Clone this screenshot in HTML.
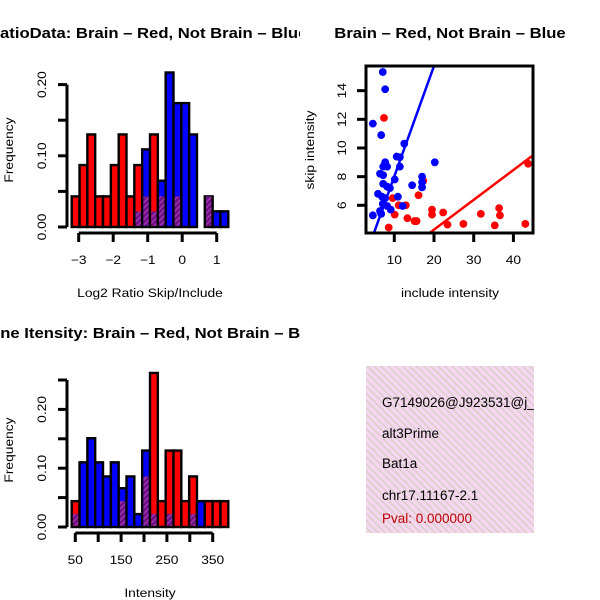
<!DOCTYPE html>
<html><head><meta charset="utf-8"><style>
body{margin:0;background:#fff}
svg{display:block;font-family:"Liberation Sans",sans-serif}
</style></head><body>
<svg id="c" width="600" height="600" viewBox="0 0 600 600">
<defs>
<pattern id="hatch" patternUnits="userSpaceOnUse" width="4" height="4" patternTransform="rotate(45)">
<rect width="4" height="4" fill="#6a1080"/><rect width="1.6" height="4" fill="#a030b0"/></pattern>
<pattern id="pink" patternUnits="userSpaceOnUse" width="5" height="5" patternTransform="rotate(-45)">
<rect width="5" height="5" fill="#f6d6f0"/><rect width="1.5" height="5" fill="#d8cfc8"/></pattern>
<clipPath id="left"><rect x="0" y="0" width="300" height="600"/></clipPath>
<clipPath id="sbox"><rect x="366" y="66" width="167" height="167"/></clipPath>
<clipPath id="tbox"><rect x="366" y="366" width="168" height="167"/></clipPath>
</defs>
<g clip-path="url(#left)">
<text transform="translate(-12,38) scale(1.15,1)" font-size="14.5" font-weight="bold">RatioData: Brain – Red, Not Brain – Blue</text>
<text transform="translate(-22,338) scale(1.15,1)" font-size="14.5" font-weight="bold">Gene Itensity: Brain – Red, Not Brain – Blue</text>
</g>
<text transform="translate(450,38) scale(1.15,1)" font-size="14.5" font-weight="bold" text-anchor="middle">Brain – Red, Not Brain – Blue</text>
<g id="h1"></g>
<g id="h2"></g>
<g id="sc"></g>
<g>
<rect x="366" y="366" width="168" height="167" fill="url(#pink)"/>
<g clip-path="url(#tbox)" font-size="13.5">
<text x="382" y="407">G7149026@J923531@j_</text>
<text x="382" y="438">alt3Prime</text>
<text x="382" y="468">Bat1a</text>
<text x="382" y="500">chr17.11167-2.1</text>
<text x="382" y="523" fill="#c00000">Pval: 0.000000</text>
</g></g>
</svg>
<script>
// Ratio histogram data (20 bins)
const ratioRed = [0.043,0.087,0.130,0.043,0.043,0.087,0.130,0.043,0.087,0.043,0.130,0.043,0,0.043,0,0,0,0.043,0,0];
const ratioBlue = [0,0,0,0,0,0,0,0,0.022,0.109,0.022,0.065,0.217,0.174,0.174,0.130,0,0.043,0.022,0.022];
const ratioXTicks = [-3,-2,-1,0,1];
const ratioYTicks = [0,0.05,0.10,0.15,0.20];
const ratioYLabels = ["0.00","","0.10","","0.20"];
// Intensity histogram data (20 bins)
const intRed = [0.044,0,0,0,0,0,0.044,0,0,0.086,0.262,0.044,0.13,0.13,0.044,0.086,0,0.044,0.044,0.044];
const intBlue = [0.022,0.11,0.151,0.11,0.086,0.11,0.066,0.086,0.022,0.13,0.022,0,0.022,0,0,0.022,0.044,0,0,0];
const intXTicks = [50,100,150,200,250,300,350];
const intXLabels = ["50","","150","","250","","350"];
const intYTicks = [0,0.05,0.10,0.15,0.20,0.25];
const intYLabels = ["0.00","","0.10","","0.20",""];
// Scatter data
const blueX = [7.1,7.7,4.6,6.7,12.5,10.6,11.4,7.7,7.2,8.2,11.4,20.2,6.4,7.2,10.1,17.0,17.0,14.5,17.0,7.2,8.2,8.9,5.9,6.9,7.7,10.9,7.1,8.2,12.1,6.4,9.1,4.6,6.7];
const blueY = [15.3,14.1,11.7,10.9,10.3,9.4,9.35,9.0,8.7,8.7,8.7,9.0,8.2,8.1,7.8,8.0,7.6,7.4,7.25,7.5,7.3,7.2,6.8,6.6,6.5,6.6,6.1,5.95,5.95,5.6,5.7,5.3,5.4];
const redX = [7.4,9.6,16.1,11.1,12.9,10.1,13.3,15.1,15.6,19.5,19.5,22.3,23.4,27.4,31.8,36.4,36.6,35.3,43.0,43.7,8.6,17.3];
const redY = [12.1,6.5,6.7,6.0,6.0,5.35,5.1,4.9,4.9,5.7,5.35,5.5,4.65,4.7,5.4,5.8,5.3,4.6,4.7,8.9,4.45,7.7];
const blueFit = [0.32,0.77]; // intercept, slope
const redFit = [0.14,0.208];
const scXTicks = [10,20,30,40];
const scYTicks = [6,8,10,12,14];

const NS="http://www.w3.org/2000/svg";
function mk(p,t,a){const e=document.createElementNS(NS,t);for(const k in a)e.setAttribute(k,a[k]);p.appendChild(e);return e;}
function txt(p,x,y,s,rot){const t=mk(p,'text',{x:0,y:0,'font-size':12,'text-anchor':'middle',transform:`translate(${x},${y})${rot?' rotate(-90)':''} scale(1.15,1)`});t.textContent=s;return t;}

function hist(g,red,blue,x0,bw,base,ys,xTicks,xLabels,xs,yTicks,yLabels,xTitle,yTitleY){
  for(let i=0;i<red.length;i++){
    const r=red[i],b=blue[i];const hi=Math.max(r,b),lo=Math.min(r,b);
    if(hi<=0)continue;
    const x=x0+i*bw;
    const col=r>=b?'#ff0000':'#0000ff';
    const bar=mk(g,'rect',{x:x,y:base-hi*ys,width:bw,height:hi*ys,fill:col,stroke:'#000','stroke-width':2.4});
    
    
    if(lo>0){
      const ov=mk(g,'rect',{x:x+1.2,y:base-lo*ys,width:bw-2.4,height:lo*ys-1.2,fill:'url(#hatch)'});
      
      
    }
  }
  const yTop=base-yTicks[yTicks.length-1]*ys;
  const ya=mk(g,'line',{x1:67,x2:67,y1:base,y2:yTop,stroke:'#000','stroke-width':3});
  
  
  yTicks.forEach((v,i)=>{const y=base-v*ys;
    mk(g,'line',{x1:58,x2:67,y1:y,y2:y,stroke:'#000','stroke-width':3});
    if(yLabels[i]){const t=txt(g,46,y,yLabels[i],true);
      
      }
  });
  const xa=mk(g,'line',{x1:xs(xTicks[0]),x2:xs(xTicks[xTicks.length-1]),y1:base+6,y2:base+6,stroke:'#000','stroke-width':3});
  
  
  xTicks.forEach((v,i)=>{const x=xs(v);
    mk(g,'line',{x1:x,x2:x,y1:base+6,y2:base+15,stroke:'#000','stroke-width':3});
    if(xLabels[i]){const t=txt(g,x,base+37,xLabels[i]);
      
      }
  });
  const xt=txt(g,150,base+70,xTitle);
  
  
  const yt=txt(g,13,yTitleY,'Frequency',true);
  
  
}
const x1s=v=>78.7+(v+3)*34.5;
hist(document.getElementById('h1'),ratioRed,ratioBlue,71.7,7.83,227,712,ratioXTicks,ratioXTicks.map(v=>v<0?'\u2212'+(-v):''+v),x1s,ratioYTicks,ratioYLabels,'Log2 Ratio Skip/Include',150);
const x2s=v=>75.3+(v-50)*0.458;
hist(document.getElementById('h2'),intRed,intBlue,71.7,7.83,527,588,intXTicks,intXLabels,x2s,intYTicks,intYLabels,'Intensity',450);

const sc=document.getElementById('sc');
const sx=v=>394.3+(v-10)*3.97, sy=v=>205.3-(v-6)*14.33;
const cg=mk(sc,'g',{'clip-path':'url(#sbox)'});
redX.forEach((v,i)=>{const c=mk(cg,'circle',{cx:sx(v),cy:sy(redY[i]),r:3.9,fill:'#ff0000'});
  
  });
blueX.forEach((v,i)=>{const c=mk(cg,'circle',{cx:sx(v),cy:sy(blueY[i]),r:3.9,fill:'#0000ff'});
  
  });
[[blueFit,'#0000ff','blue-fit-line'],[redFit,'#ff0000','red-fit-line']].forEach(([f,col,nm])=>{
  const l=mk(cg,'line',{x1:sx(0),y1:sy(f[0]),x2:sx(50),y2:sy(f[0]+f[1]*50),stroke:col,'stroke-width':2.5});
  
  
});
const fr=mk(sc,'rect',{x:366,y:66,width:167,height:167,fill:'none',stroke:'#000','stroke-width':3});


scXTicks.forEach(v=>{const x=sx(v);mk(sc,'line',{x1:x,x2:x,y1:233,y2:242,stroke:'#000','stroke-width':3});
  const t=txt(sc,x,264,''+v);
  
  });
scYTicks.forEach(v=>{const y=sy(v);mk(sc,'line',{x1:357,x2:366,y1:y,y2:y,stroke:'#000','stroke-width':3});
  const t=txt(sc,346,y,''+v,true);
  
  });
const sxt=txt(sc,450,297,'include intensity');


const syt=txt(sc,314,150,'skip intensity',true);


</script>
</body></html>
